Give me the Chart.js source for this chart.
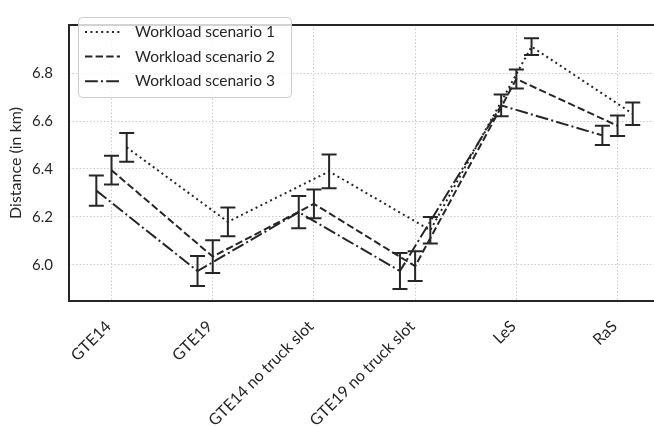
<!DOCTYPE html>
<html>
<head>
<meta charset="utf-8">
<script src="https://cdn.jsdelivr.net/npm/chart.js@4"></script>
<style>
  html, body { margin: 0; padding: 0; background: #fff; overflow: hidden; }
</style>
</head>
<body>
<canvas id="distChart" width="654" height="426"></canvas>
<script>
// categories and readings (km), per workload scenario
const categories = ['GTE14', 'GTE19', 'GTE14 no truck slot', 'GTE19 no truck slot', 'LeS', 'RaS'];
const seriesNames = ['Workload scenario 1', 'Workload scenario 2', 'Workload scenario 3'];
const scenario1 = [6.49, 6.18, 6.39, 6.145, 6.91, 6.63];
const scenario2 = [6.395, 6.035, 6.255, 5.995, 6.775, 6.58];
const scenario3 = [6.31, 5.975, 6.22, 5.975, 6.665, 6.54];
const err1 = [0.06, 0.06, 0.07, 0.055, 0.035, 0.047];
const err2 = [0.06, 0.068, 0.06, 0.062, 0.04, 0.043];
const err3 = [0.063, 0.063, 0.067, 0.075, 0.045, 0.04];
const yTicks = [6.0, 6.2, 6.4, 6.6, 6.8];
const xShift = [0.15, 0, -0.15];

const ink = '#262626';
const fontFam = 'Lato, "Noto Sans", sans-serif';
const dashes = [[2, 3.4], [7.4, 3.2], [12.8, 3.2, 2, 3.2]];

const values = [scenario1, scenario2, scenario3];
const errors = [err1, err2, err3];

const datasets = seriesNames.map((name, s) => ({
    label: name,
    data: values[s].map((v, i) => ({ x: i + xShift[s], y: v, e: errors[s][i] })),
    borderColor: ink,
    borderWidth: 2,
    borderDash: dashes[s],
    pointRadius: 0,
    fill: false,
    tension: 0
}));

// error bars drawn through the scales
const errorBars = {
    id: 'errorBars',
    afterDatasetsDraw(chart) {
        const { ctx, scales: { x, y } } = chart;
        ctx.save();
        ctx.strokeStyle = ink;
        ctx.lineWidth = 2;
        ctx.setLineDash([]);
        chart.data.datasets.forEach(ds => {
            ds.data.forEach(p => {
                const px = x.getPixelForValue(p.x);
                const top = y.getPixelForValue(p.y + p.e);
                const bot = y.getPixelForValue(p.y - p.e);
                ctx.beginPath();
                ctx.moveTo(px, top); ctx.lineTo(px, bot);
                ctx.moveTo(px - 7.5, top); ctx.lineTo(px + 7.5, top);
                ctx.moveTo(px - 7.5, bot); ctx.lineTo(px + 7.5, bot);
                ctx.stroke();
            });
        });
        ctx.restore();
    }
};

// frame + legend box
const frameAndLegend = {
    id: 'frameAndLegend',
    afterDraw(chart) {
        const { ctx, chartArea: a } = chart;
        ctx.save();
        ctx.strokeStyle = ink;
        ctx.lineWidth = 2;
        ctx.beginPath();
        ctx.moveTo(a.right + 2, a.top); ctx.lineTo(a.left, a.top);
        ctx.lineTo(a.left, a.bottom); ctx.lineTo(a.right + 2, a.bottom);
        ctx.stroke();

        const bx = 78, by = 17, bw = 213, bh = 80;
        ctx.fillStyle = 'rgba(255,255,255,0.8)';
        ctx.strokeStyle = '#cccccc';
        ctx.lineWidth = 1;
        ctx.beginPath();
        ctx.roundRect(bx + 0.5, by + 0.5, bw, bh, 4);
        ctx.fill();
        ctx.stroke();

        ctx.font = '15.5px ' + fontFam;
        ctx.textBaseline = 'middle';
        ctx.textAlign = 'left';
        chart.data.datasets.forEach((ds, i) => {
            const ry = 32 + i * 24.6;
            ctx.strokeStyle = ink;
            ctx.lineWidth = 2;
            ctx.setLineDash(ds.borderDash);
            ctx.beginPath();
            ctx.moveTo(85, ry); ctx.lineTo(120, ry);
            ctx.stroke();
            ctx.setLineDash([]);
            ctx.fillStyle = ink;
            ctx.fillText(ds.label, 135, ry);
        });
        ctx.restore();
    }
};

new Chart(document.getElementById('distChart'), {
    type: 'line',
    data: { datasets },
    options: {
        responsive: false,
        animation: false,
        devicePixelRatio: 1,
        layout: { padding: { top: 8, right: 0, left: 0, bottom: 0 } },
        plugins: { legend: { display: false }, tooltip: { enabled: false } },
        scales: {
            x: {
                type: 'linear',
                min: -0.42,
                max: 5.36,
                afterBuildTicks: s => { s.ticks = categories.map((c, i) => ({ value: i })); },
                afterFit: s => { s.height = 125; },
                grid: { color: '#cccccc', lineWidth: 1, drawTicks: false },
                border: { display: false, dash: [1.5, 2] },
                ticks: {
                    autoSkip: false,
                    minRotation: 45,
                    maxRotation: 45,
                    padding: 16,
                    labelOffset: -3,
                    color: ink,
                    font: { family: fontFam, size: 16 },
                    callback: v => categories[v]
                }
            },
            y: {
                min: 5.85,
                max: 7.0,
                afterBuildTicks: s => { s.ticks = yTicks.map(v => ({ value: v })); },
                afterFit: s => { s.width = 69; },
                grid: { color: '#cccccc', lineWidth: 1, drawTicks: false },
                border: { display: false, dash: [1.5, 2] },
                ticks: {
                    padding: 16,
                    color: ink,
                    font: { family: fontFam, size: 15 },
                    callback: v => v.toFixed(1)
                },
                title: {
                    display: true,
                    text: 'Distance (in km)',
                    color: ink,
                    font: { family: fontFam, size: 16 },
                    padding: { top: 6, bottom: 0 }
                }
            }
        }
    },
    plugins: [errorBars, frameAndLegend]
});
</script>
</body>
</html>
